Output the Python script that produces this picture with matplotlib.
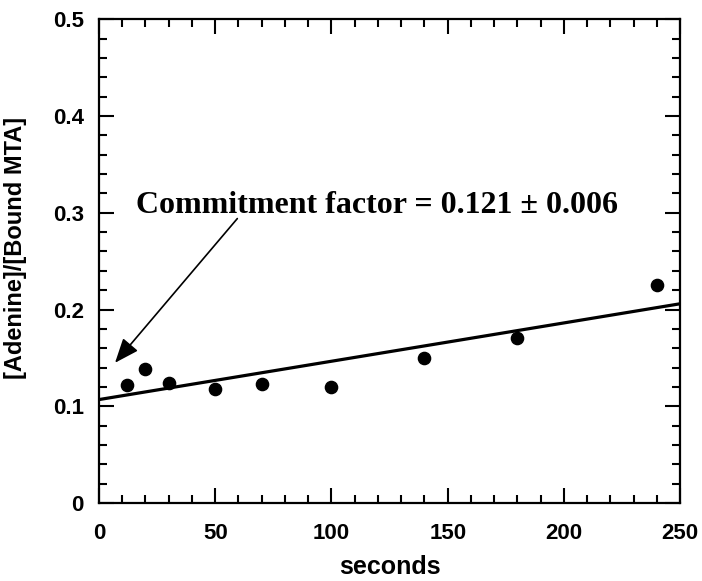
import numpy as np
import matplotlib
matplotlib.use("Agg")
import matplotlib.pyplot as plt
from matplotlib.ticker import MultipleLocator

# Datos
seconds = [12, 20, 30, 50, 70, 100, 140, 180, 240]
ratio = [0.122, 0.139, 0.124, 0.118, 0.123, 0.120, 0.150, 0.171, 0.225]

# Recta de ajuste (extremos en x=0 y x=250)
fit_x = [0, 250]
fit_y = [0.107, 0.206]

plt.rcParams['font.family'] = ['Liberation Sans', 'DejaVu Sans']

fig = plt.figure(figsize=(7.02, 5.81), dpi=100)
ax = fig.add_axes([0.141, 0.134, 0.828, 0.833])

ax.plot(fit_x, fit_y, color='black', linewidth=2.3, solid_capstyle='butt')
ax.plot(seconds, ratio, 'o', color='black', markersize=8.8)

ax.set_xlim(0, 250)
ax.set_ylim(0, 0.5)
ax.xaxis.set_major_locator(MultipleLocator(50))
ax.xaxis.set_minor_locator(MultipleLocator(10))
ax.yaxis.set_major_locator(MultipleLocator(0.1))
ax.yaxis.set_minor_locator(MultipleLocator(0.02))
ax.set_yticks([0, 0.1, 0.2, 0.3, 0.4, 0.5])
ax.set_yticklabels(['0', '0.1', '0.2', '0.3', '0.4', '0.5'])

ax.tick_params(which='both', direction='in', top=True, right=True, width=1.5)
ax.tick_params(which='major', length=11, labelsize=16)
ax.tick_params(axis='x', which='major', pad=14)
ax.tick_params(axis='y', which='major', pad=11)
ax.tick_params(which='minor', length=6)
for lab in ax.get_xticklabels() + ax.get_yticklabels():
    lab.set_fontweight('bold')
for s in ax.spines.values():
    s.set_linewidth(1.6)

ax.set_xlabel('seconds', fontsize=18, fontweight='bold', labelpad=8)
ax.set_ylabel('[Adenine]/[Bound MTA]', fontsize=17, fontweight='bold')
ax.yaxis.set_label_coords(-0.124, 0.527)

ax.annotate('', xy=(6.9, 0.145), xytext=(59.5, 0.294),
            arrowprops=dict(arrowstyle='-|>,head_length=1.5,head_width=0.6',
                            color='black', lw=1.2, shrinkA=0, shrinkB=0))
ax.text(119.4, 0.2996, 'Commitment factor = 0.121 \u00b1 0.006', ha='center', va='baseline',
        fontsize=23, fontweight='bold', family=['Liberation Serif', 'DejaVu Serif'])

fig.savefig('out.png', dpi=100)
